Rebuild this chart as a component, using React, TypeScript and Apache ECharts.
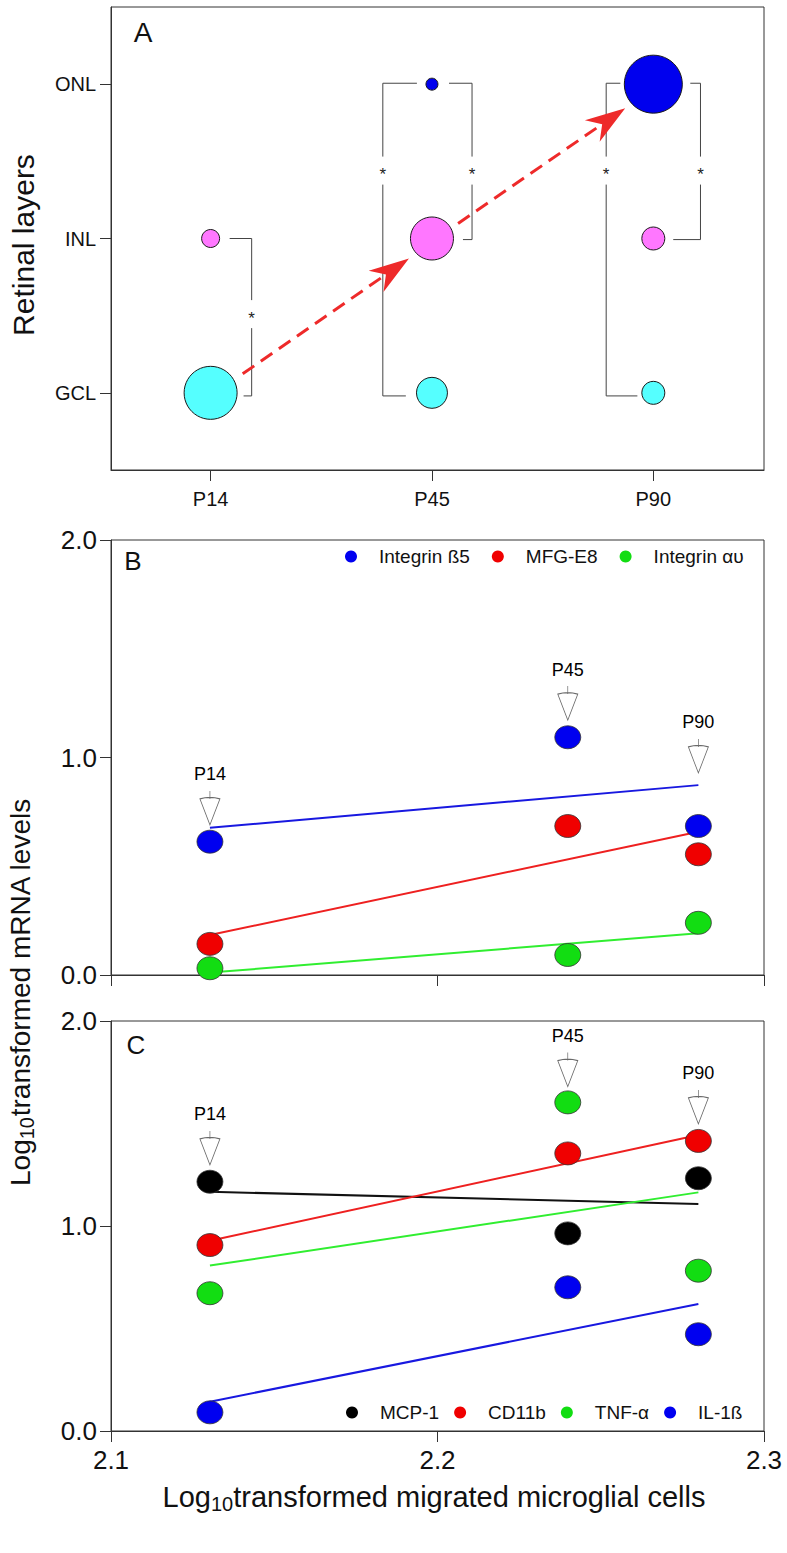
import React, { useEffect, useRef } from "react";
import * as echarts from "echarts";

const FONT = "'Liberation Sans', Arial, Helvetica, sans-serif";

// ---------- Panel A ----------
const ageLabels = ["P14", "P45", "P90"];
const layerLabels = ["GCL", "INL", "ONL"];
// relative bubble magnitude per layer at P14, P45, P90 (null = no bubble)
const gclBubble: (number | null)[] = [53, 31, 23];
const inlBubble: (number | null)[] = [18, 43, 23];
const onlBubble: (number | null)[] = [null, 12, 58];

// ---------- Panels B & C ----------
const migratedLog = [2.1303, 2.2399, 2.2799];

const integrinB5 = [0.613, 1.093, 0.685];
const mfgE8 = [0.143, 0.685, 0.555];
const integrinAv = [0.031, 0.092, 0.24];
const integrinB5Fit = [0.677, 0.873];
const mfgE8Fit = [0.184, 0.659];
const integrinAvFit = [0.011, 0.192];
const arrowTipsB = [0.69, 1.172, 0.929];

const mcp1 = [1.216, 0.964, 1.233];
const cd11b = [0.907, 1.354, 1.415];
const tnfA = [0.672, 1.603, 0.782];
const il1b = [0.091, 0.701, 0.472];
const mcp1Fit = [1.167, 1.107];
const cd11bFit = [0.928, 1.444];
const tnfAFit = [0.807, 1.164];
const il1bFit = [0.143, 0.62];
const arrowTipsC = [1.298, 1.68, 1.498];

const mrnaTicks = [0, 1, 2];
const cellTicks = [2.1, 2.2, 2.3];

const AXIS_COLOR = "#333";
const TEXT_COLOR = "#111";

const ARROW_PATH = "path://M10,0L10,8M0,8Q10,5 20,8L10,34Z";

export default function App() {
  const ref = useRef<HTMLDivElement>(null);

  useEffect(() => {
    document.body.style.margin = "0";
    const chart = echarts.init(ref.current!, null, { renderer: "svg" });

    const axisLine = { show: true, onZero: false, lineStyle: { color: AXIS_COLOR, width: 1 } };
    const tickStyle = { color: AXIS_COLOR, width: 1 };

    const bGroups = [
      { name: "Integrin ß5", values: integrinB5, fit: integrinB5Fit, color: "#0000F0", line: "#1818E0" },
      { name: "MFG-E8", values: mfgE8, fit: mfgE8Fit, color: "#F00000", line: "#EE2020" },
      { name: "Integrin αυ", values: integrinAv, fit: integrinAvFit, color: "#12DD12", line: "#30EE30" },
    ];
    const cGroups = [
      { name: "MCP-1", values: mcp1, fit: mcp1Fit, color: "#000000", line: "#111111" },
      { name: "CD11b", values: cd11b, fit: cd11bFit, color: "#F00000", line: "#EE2020" },
      { name: "TNF-α", values: tnfA, fit: tnfAFit, color: "#12DD12", line: "#30EE30" },
      { name: "IL-1ß", values: il1b, fit: il1bFit, color: "#0000F0", line: "#1818E0" },
    ];

    const series: any[] = [];

    // Panel A bubbles
    const layers = [
      { name: "GCL", idx: 0, sizes: gclBubble, color: "#55FFFF" },
      { name: "INL", idx: 1, sizes: inlBubble, color: "#FF77FF" },
      { name: "ONL", idx: 2, sizes: onlBubble, color: "#0000EE" },
    ];
    layers.forEach((l) => {
      series.push({
        type: "scatter",
        name: l.name,
        xAxisIndex: 0,
        yAxisIndex: 0,
        silent: true,
        z: 3,
        data: l.sizes
          .map((s, i) => (s == null ? null : [i, l.idx, s]))
          .filter((d) => d != null),
        symbol: "circle",
        symbolSize: (v: number[]) => v[2],
        itemStyle: { color: l.color, borderColor: "#1a1a1a", borderWidth: 1, opacity: 1 },
      });
    });

    const addPanel = (groups: any[], axisIdx: number, tips: number[]) => {
      groups.forEach((g) => {
        series.push({
          type: "line",
          name: g.name + " fit",
          xAxisIndex: axisIdx,
          yAxisIndex: axisIdx,
          silent: true,
          z: 2,
          symbol: "none",
          data: [
            [migratedLog[0], g.fit[0]],
            [migratedLog[2], g.fit[1]],
          ],
          lineStyle: { color: g.line, width: 2 },
        });
      });
      groups.forEach((g) => {
        series.push({
          type: "scatter",
          name: g.name,
          xAxisIndex: axisIdx,
          yAxisIndex: axisIdx,
          silent: true,
          z: 3,
          symbol: "circle",
          symbolSize: [26, 23],
          data: migratedLog.map((x, i) => [x, g.values[i]]),
          itemStyle: { color: g.color, borderColor: "#333", borderWidth: 0.8, opacity: 1 },
        });
      });
      series.push({
        type: "scatter",
        name: "ages" + axisIdx,
        xAxisIndex: axisIdx,
        yAxisIndex: axisIdx,
        silent: true,
        z: 4,
        symbol: ARROW_PATH,
        symbolSize: [20, 34],
        symbolKeepAspect: false,
        symbolOffset: [0, -17],
        data: migratedLog.map((x, i) => [x, tips[i]]),
        itemStyle: { color: "#ffffff", borderColor: "#444", borderWidth: 0.9 },
        label: {
          show: true,
          position: "top",
          distance: 7,
          formatter: (p: any) => ageLabels[p.dataIndex],
          fontSize: 18,
          fontFamily: FONT,
          color: "#000",
          opacity: 1,
        },
      });
    };
    addPanel(bGroups, 1, arrowTipsB);
    addPanel(cGroups, 2, arrowTipsC);

    const legendCommon = {
      orient: "horizontal",
      icon: "circle",
      itemWidth: 14,
      itemHeight: 12,
      padding: 0,
      selectedMode: false,
      itemStyle: { borderWidth: 0 },
      textStyle: { fontSize: 19, fontFamily: FONT, color: TEXT_COLOR, padding: [0, 0, 0, 16] },
    };

    const option: any = {
      animation: false,
      textStyle: { fontFamily: FONT },
      grid: [
        { left: 111, top: 7, width: 653, height: 463, show: true, borderColor: AXIS_COLOR, borderWidth: 1 },
        { left: 111, top: 540, width: 653, height: 435, show: true, borderColor: AXIS_COLOR, borderWidth: 1 },
        { left: 111, top: 1021, width: 653, height: 410, show: true, borderColor: AXIS_COLOR, borderWidth: 1 },
      ],
      xAxis: [
        {
          type: "value",
          gridIndex: 0,
          min: -0.45,
          max: 2.5,
          axisLine,
          splitLine: { show: false },
          axisTick: { show: true, length: 11, customValues: [0, 1, 2], lineStyle: tickStyle },
          axisLabel: {
            customValues: [0, 1, 2],
            formatter: (v: number) => ageLabels[Math.round(v)] ?? "",
            fontSize: 20,
            margin: 19,
            color: TEXT_COLOR,
            fontFamily: FONT,
          },
        },
        {
          type: "value",
          gridIndex: 1,
          min: 2.1,
          max: 2.3,
          axisLine,
          splitLine: { show: false },
          axisTick: { show: true, length: 11, customValues: cellTicks, lineStyle: tickStyle },
          axisLabel: { show: false, customValues: cellTicks },
        },
        {
          type: "value",
          gridIndex: 2,
          min: 2.1,
          max: 2.3,
          axisLine,
          splitLine: { show: false },
          axisTick: { show: true, length: 11, customValues: cellTicks, lineStyle: tickStyle },
          axisLabel: {
            customValues: cellTicks,
            formatter: (v: number) => v.toFixed(1),
            fontSize: 26,
            margin: 16,
            color: TEXT_COLOR,
            fontFamily: FONT,
          },
        },
      ],
      yAxis: [
        {
          type: "value",
          gridIndex: 0,
          min: -0.5,
          max: 2.5,
          axisLine,
          splitLine: { show: false },
          axisTick: { show: true, length: 11, customValues: [0, 1, 2], lineStyle: tickStyle },
          axisLabel: {
            customValues: [0, 1, 2],
            formatter: (v: number) => layerLabels[Math.round(v)] ?? "",
            fontSize: 20,
            margin: 15,
            color: TEXT_COLOR,
            fontFamily: FONT,
          },
        },
        ...[1, 2].map((gi) => ({
          type: "value",
          gridIndex: gi,
          min: 0,
          max: 2,
          axisLine,
          splitLine: { show: false },
          axisTick: { show: true, length: 11, customValues: mrnaTicks, lineStyle: tickStyle },
          axisLabel: {
            customValues: mrnaTicks,
            formatter: (v: number) => v.toFixed(1),
            fontSize: 26,
            margin: 14,
            color: TEXT_COLOR,
            fontFamily: FONT,
          },
        })),
      ],
      legend: [
        { ...legendCommon, data: bGroups.map((g) => g.name), left: 345, top: 547, itemGap: 22 },
        { ...legendCommon, data: cGroups.map((g) => g.name), left: 346, top: 1403, itemGap: 15 },
      ],
      series,
    };

    chart.setOption(option);

    // ---------- annotations ----------
    const px = (x: number, y: number) =>
      chart.convertToPixel({ xAxisIndex: 0, yAxisIndex: 0 }, [x, y]) as number[];

    const brackets = [
      { x: 0.1855, top: 1.0, bottom: -0.02, star: 0.51, topArm: 0.086, bottomArm: 0.149 },
      { x: 0.778, top: 2.006, bottom: -0.02, star: 1.44, topArm: 0.932, bottomArm: 0.882 },
      { x: 1.181, top: 2.006, bottom: 0.993, star: 1.44, topArm: 1.077, bottomArm: 1.14 },
      { x: 1.787, top: 2.006, bottom: -0.02, star: 1.44, topArm: 1.851, bottomArm: 1.928 },
      { x: 2.213, top: 2.006, bottom: 0.993, star: 1.44, topArm: 2.167, bottomArm: 2.09 },
    ];
    const migrationArrows = [
      { from: [0.145, 0.123], to: [0.896, 0.87] },
      { from: [1.118, 1.097], to: [1.873, 1.844] },
    ];

    const g: any[] = [];
    const lineStyle = { stroke: "#444", lineWidth: 1, fill: "none" };
    brackets.forEach((b) => {
      const [xp, topY] = px(b.x, b.top);
      const [, botY] = px(b.x, b.bottom);
      const [, starY] = px(b.x, b.star);
      const [taX] = px(b.topArm, 0);
      const [baX] = px(b.bottomArm, 0);
      g.push({
        type: "polyline",
        silent: true,
        shape: { points: [[taX, topY], [xp, topY], [xp, starY - 14]] },
        style: lineStyle,
      });
      g.push({
        type: "polyline",
        silent: true,
        shape: { points: [[xp, starY + 14], [xp, botY], [baX, botY]] },
        style: lineStyle,
      });
      g.push({
        type: "text",
        silent: true,
        x: xp,
        y: starY + 4,
        style: {
          text: "*",
          fontSize: 17,
          fontFamily: FONT,
          fill: "#222",
          textAlign: "center",
          textVerticalAlign: "middle",
          align: "center",
          verticalAlign: "middle",
        },
      });
    });

    const RED = "#EE2A2A";
    migrationArrows.forEach((a) => {
      const p0 = px(a.from[0], a.from[1]);
      const p1 = px(a.to[0], a.to[1]);
      const dx = p1[0] - p0[0];
      const dy = p1[1] - p0[1];
      const len = Math.sqrt(dx * dx + dy * dy);
      const ux = dx / len;
      const uy = dy / len;
      const nx = -uy;
      const ny = ux;
      const L = 40;
      const W = 13;
      const N = 28;
      const notch = [p1[0] - ux * N, p1[1] - uy * N];
      g.push({
        type: "line",
        silent: true,
        z: 10,
        shape: { x1: p0[0], y1: p0[1], x2: notch[0], y2: notch[1] },
        style: { stroke: RED, lineWidth: 3, lineDash: [14, 8] },
      });
      g.push({
        type: "polygon",
        silent: true,
        z: 10,
        shape: {
          points: [
            p1,
            [p1[0] - ux * L + nx * W, p1[1] - uy * L + ny * W],
            notch,
            [p1[0] - ux * L - nx * W, p1[1] - uy * L - ny * W],
          ],
        },
        style: { fill: RED },
      });
    });

    const plainText = (text: string, x: number, y: number, size: number) => ({
      type: "text",
      silent: true,
      x,
      y,
      style: {
        text,
        fontSize: size,
        fontFamily: FONT,
        fill: TEXT_COLOR,
        textAlign: "center",
        textVerticalAlign: "middle",
        align: "center",
        verticalAlign: "middle",
      },
    });

    g.push(plainText("A", 143, 32, 28));
    g.push(plainText("B", 133, 561, 26));
    g.push(plainText("C", 136, 1045, 26));
    g.push({ ...plainText("Retinal layers", 23, 245, 30), rotation: Math.PI / 2 });

    const rich = {
      m: { fontSize: 28, fontFamily: FONT, fill: TEXT_COLOR, lineHeight: 34 },
      s: { fontSize: 20, fontFamily: FONT, fill: TEXT_COLOR, lineHeight: 14, verticalAlign: "bottom" },
    };
    g.push({
      type: "text",
      silent: true,
      x: 20,
      y: 992,
      rotation: Math.PI / 2,
      style: {
        text: "{m|Log}{s|10}{m|transformed mRNA levels}",
        rich,
        textAlign: "center",
        textVerticalAlign: "middle",
        align: "center",
        verticalAlign: "middle",
      },
    });
    g.push({
      type: "text",
      silent: true,
      x: 434,
      y: 1497,
      style: {
        text: "{m|Log}{s|10}{m|transformed migrated microglial cells}",
        rich: {
          m: { ...rich.m, fontSize: 29 },
          s: rich.s,
        },
        textAlign: "center",
        textVerticalAlign: "middle",
        align: "center",
        verticalAlign: "middle",
      },
    });

    chart.setOption({ graphic: g });

    return () => chart.dispose();
  }, []);

  return <div ref={ref} style={{ width: 787, height: 1553 }} />;
}
